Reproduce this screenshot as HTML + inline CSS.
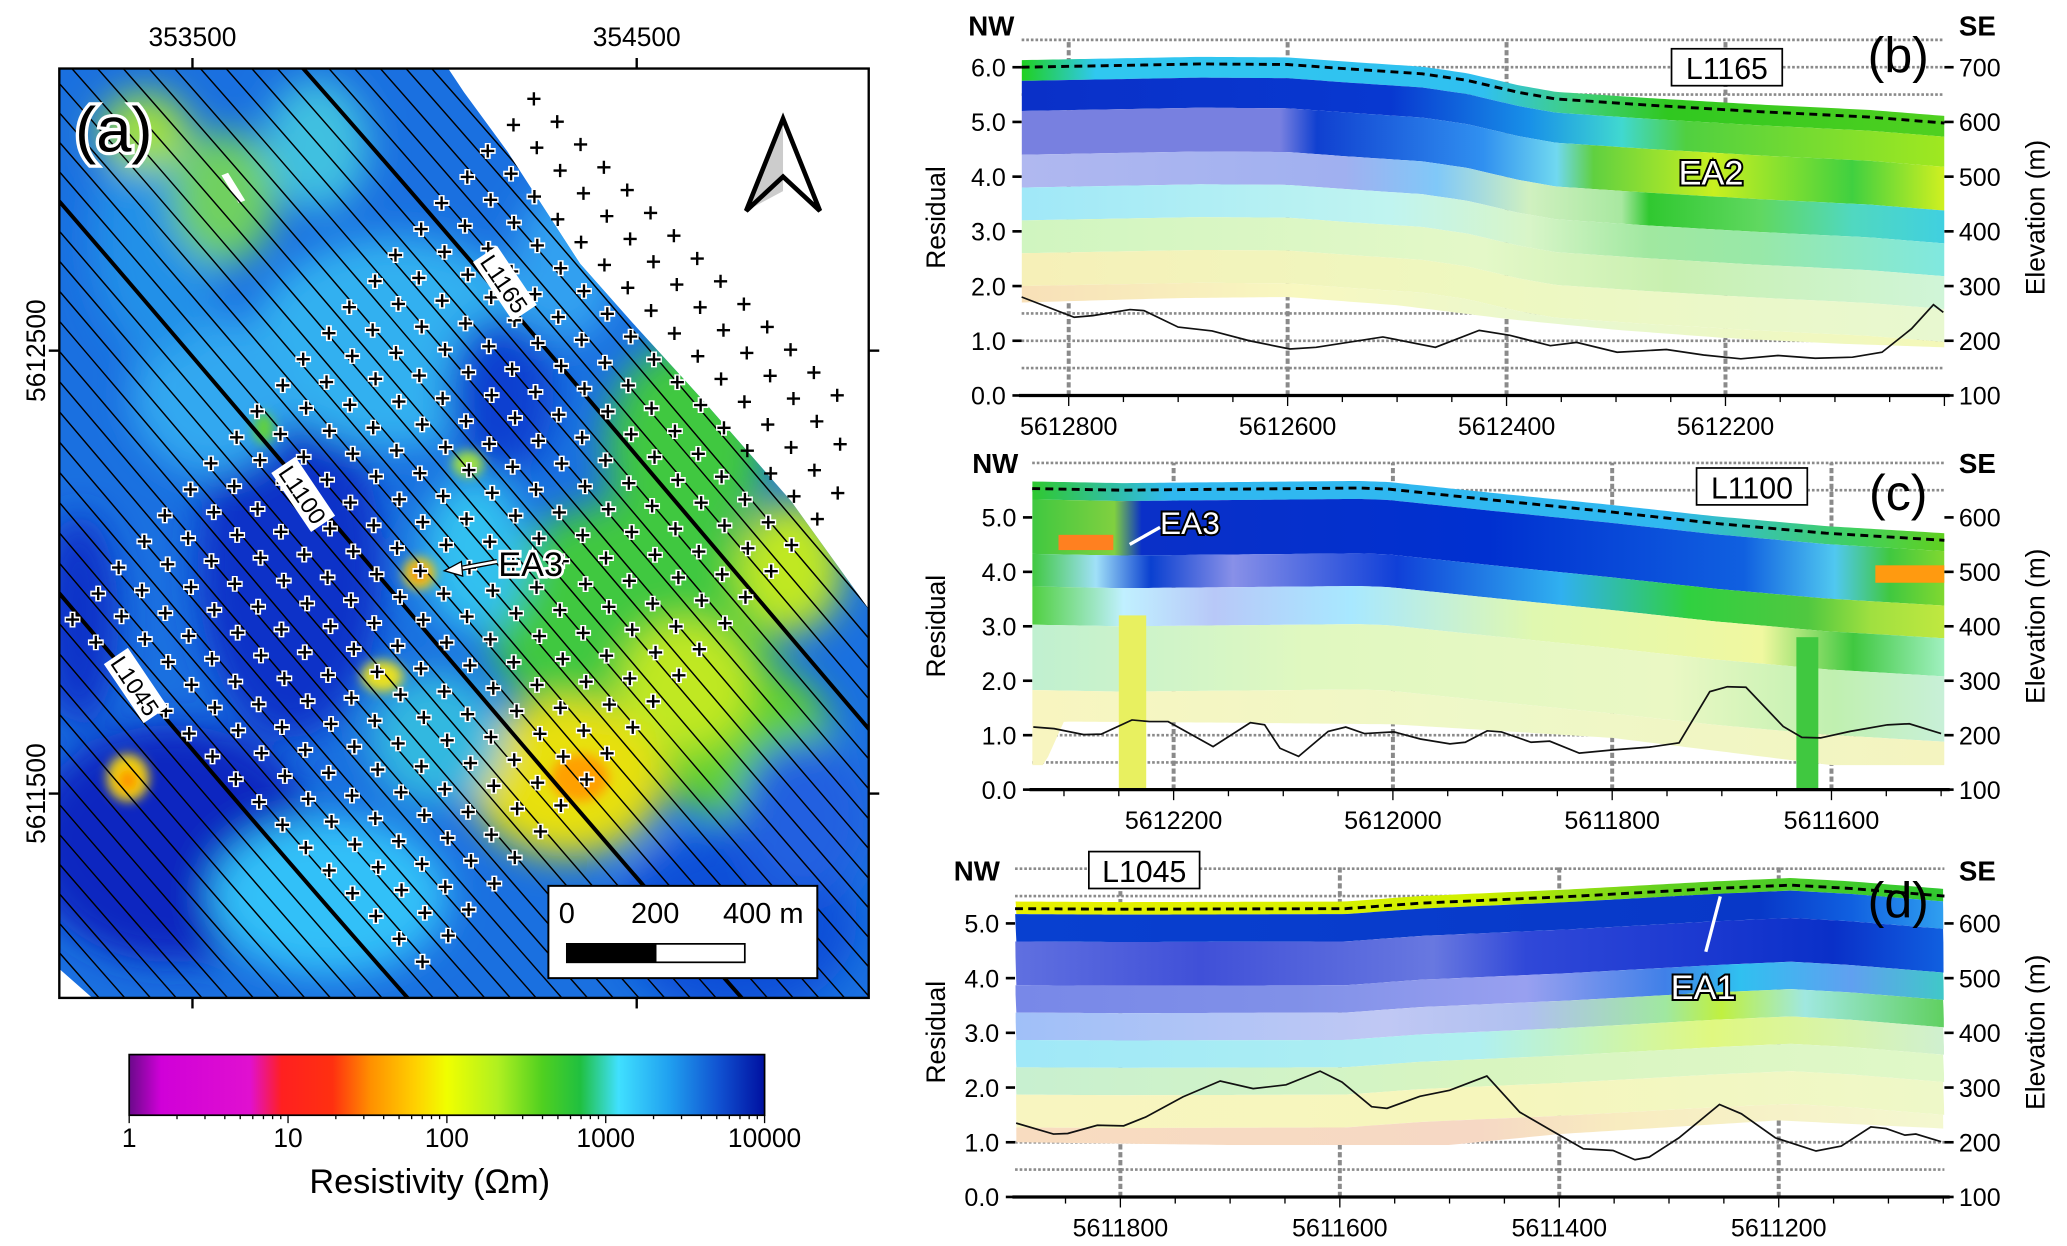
<!DOCTYPE html>
<html><head><meta charset="utf-8"><title>Resistivity map and sections</title>
<style>
html,body{margin:0;padding:0;background:#fff;}
svg{display:block;font-family:"Liberation Sans",Arial,sans-serif;}
</style></head>
<body>
<svg id="fig" xmlns="http://www.w3.org/2000/svg" width="2067" height="1246" viewBox="0 0 1568 945.2" preserveAspectRatio="none">
<defs>
<linearGradient id="cbar" x1="0" x2="1" y1="0" y2="0">
<stop offset="0" stop-color="#6a0a8a"/><stop offset="0.05" stop-color="#d000d8"/><stop offset="0.19" stop-color="#e010d0"/>
<stop offset="0.24" stop-color="#ff2020"/><stop offset="0.32" stop-color="#ff3010"/><stop offset="0.38" stop-color="#ff9000"/>
<stop offset="0.45" stop-color="#ffd000"/><stop offset="0.5" stop-color="#f0ff00"/><stop offset="0.58" stop-color="#b0f020"/>
<stop offset="0.65" stop-color="#50d020"/><stop offset="0.71" stop-color="#20c040"/><stop offset="0.77" stop-color="#40e0ff"/>
<stop offset="0.85" stop-color="#20a0f0"/><stop offset="0.93" stop-color="#1050d0"/><stop offset="1" stop-color="#0010a0"/>
</linearGradient>
<filter id="blur" x="-20%" y="-20%" width="140%" height="140%"><feGaussianBlur stdDeviation="14"/></filter>
<filter id="blur2"><feGaussianBlur stdDeviation="4"/></filter>
<clipPath id="mapclip"><polygon points="45,52 340,52 352,70 385,115 440,200 480,245 530,300 600,380 659,462 659,757 70,757 45,735"/></clipPath>
</defs>
<g id="gradients"></g>
<g id="mapg"></g>
<g id="secb"></g>
<g id="secc"></g>
<g id="secd"></g>
</svg>
<script>
// ---------- DATA ----------
// Panel (b) L1165
const bTicks=[5612800,5612600,5612400,5612200];
const bResN=[5612843,5612795,5612778,5612744,5612731,5612700,5612669,5612635,5612598,5612574,5612513,5612465,5612425,5612397,5612360,5612336,5612299,5612254,5612220,5612186,5612152,5612118,5612084,5612057,5612030,5612010,5612001];
const bResV=[1.80,1.43,1.46,1.57,1.55,1.25,1.18,1.00,0.85,0.88,1.07,0.88,1.19,1.10,0.91,0.97,0.79,0.84,0.74,0.67,0.73,0.68,0.70,0.79,1.22,1.66,1.52];
const bTopN=[5612843,5612680,5612600,5612545,5612477,5612436,5612389,5612355,5612273,5612171,5612069,5612000];
const bTopV=[6.00,6.06,6.05,5.97,5.88,5.76,5.54,5.42,5.31,5.19,5.09,4.98];
const bBotN=[5612843,5612700,5612600,5612500,5612400,5612300,5612200,5612100,5612000];
const bBotV=[1.70,1.78,1.80,1.65,1.40,1.20,1.05,0.95,0.88];
// Panel (c) L1100
const cTicks=[5612200,5612000,5611800,5611600];
const cResN=[5612328,5612309,5612282,5612266,5612238,5612222,5612205,5612164,5612130,5612117,5612103,5612086,5612059,5612043,5612026,5611999,5611975,5611948,5611934,5611914,5611901,5611874,5611857,5611830,5611799,5611766,5611739,5611711,5611695,5611678,5611644,5611627,5611610,5611583,5611549,5611529,5611500];
const cResV=[1.15,1.12,1.01,1.02,1.28,1.25,1.25,0.79,1.23,1.19,0.76,0.61,1.07,1.15,1.03,1.06,0.93,0.84,0.87,1.08,1.06,0.87,0.89,0.67,0.73,0.78,0.86,1.80,1.89,1.88,1.16,0.96,0.95,1.07,1.19,1.21,1.03];
const cTopN=[5612329,5612247,5612031,5612004,5611909,5611801,5611706,5611605,5611497];
const cTopV=[5.53,5.50,5.54,5.52,5.32,5.10,4.89,4.71,4.58];
const cBotN=[5612329,5612318,5612300,5612150,5612000,5611800,5611640,5611600,5611497];
const cBotV=[0.45,0.45,1.25,1.23,1.20,0.95,0.55,0.45,0.45];
// Panel (d) L1045
const dTicks=[5611800,5611600,5611400,5611200];
const dResN=[5611895,5611861,5611848,5611821,5611797,5611777,5611743,5611709,5611679,5611649,5611618,5611598,5611571,5611557,5611527,5611500,5611466,5611436,5611405,5611378,5611351,5611331,5611318,5611291,5611254,5611234,5611203,5611166,5611143,5611116,5611102,5611085,5611075,5611052];
const dResV=[1.35,1.15,1.16,1.31,1.30,1.46,1.83,2.12,1.98,2.05,2.30,2.10,1.65,1.62,1.84,1.95,2.21,1.55,1.19,0.88,0.85,0.68,0.73,1.08,1.69,1.52,1.08,0.84,0.93,1.28,1.25,1.13,1.15,1.01];
const dTopN=[5611896,5611797,5611595,5611527,5611392,5611257,5611189,5611135,5611049];
const dTopV=[5.27,5.26,5.27,5.37,5.49,5.64,5.70,5.64,5.50];
const dBotN=[5611896,5611700,5611500,5611400,5611200,5611049];
const dBotV=[1.00,0.95,0.95,1.15,1.40,1.25];
// shared tick labels
const resTicks=[0,1,2,3,4,5,6];
const elevTicks=[100,200,300,400,500,600,700];
const cbarTicks=[1,10,100,1000,10000];

// ---------- HELPERS ----------
const NS='http://www.w3.org/2000/svg';
function mk(tag,attrs,parent){const e=document.createElementNS(NS,tag);for(const k in attrs)e.setAttribute(k,attrs[k]);if(parent)parent.appendChild(e);return e;}
function txt(parent,x,y,s,size,opts){opts=opts||{};const t=mk('text',{x:x,y:y,'font-size':size,fill:opts.fill||'#000','text-anchor':opts.anchor||'start'},parent);if(opts.weight)t.setAttribute('font-weight',opts.weight);if(opts.rot)t.setAttribute('transform','rotate('+opts.rot+' '+x+' '+y+')');if(opts.stroke){t.setAttribute('stroke',opts.stroke);t.setAttribute('stroke-width',opts.sw||3);t.setAttribute('paint-order','stroke');}t.textContent=s;return t;}
function interp(N,V,n){if(n>=N[0])return V[0];for(let i=1;i<N.length;i++){if(n>=N[i]){const f=(N[i-1]-n)/(N[i-1]-N[i]);return V[i-1]+f*(V[i]-V[i-1]);}}return V[V.length-1];}
const grads=document.getElementById('gradients');
let gid=0;
function hgrad(x0,x1,stops){const id='g'+(gid++);const g=mk('linearGradient',{id:id,gradientUnits:'userSpaceOnUse',x1:x0,x2:x1,y1:0,y2:0},grads);stops.forEach(s=>mk('stop',{offset:s[0],'stop-color':s[1]},g));return 'url(#'+id+')';}

// ---------- SECTIONS ----------
function section(gId,P,ticks,resN,resV,topN,topV,botN,botV,bands,extras,lab){
  const g=document.getElementById(gId);
  const X=n=>P.x0+(P.nL-n)*(P.x1-P.x0)/(P.nL-P.nR);
  const Y=r=>P.y0-r*P.ppu;
  const N=x=>P.nL-(x-P.x0)*(P.nL-P.nR)/(P.x1-P.x0);
  P.grid.forEach(r=>{const l=mk('line',{x1:P.x0,x2:P.x1,y1:Y(r),y2:Y(r),stroke:'#8a8a8a','stroke-width':2,'stroke-dasharray':'2 1.5'},g);});
  ticks.forEach(n=>{const l=mk('line',{x1:X(n),x2:X(n),y1:Y(0),y2:P.top,stroke:'#8a8a8a','stroke-width':3,'stroke-dasharray':'4 2'},g);});
  const cid=gId+'clip';const cp=mk('clipPath',{id:cid},grads);
  let pts=[];for(let x=P.x0;x<=P.x1+0.1;x+=4){pts.push(x+','+Y(interp(topN,topV,N(x))+0.13));}
  for(let x=P.x1;x>=P.x0-0.1;x-=4){pts.push(x+','+Y(interp(botN,botV,N(x))));}
  mk('polygon',{points:pts.join(' ')},cp);
  const sg=mk('g',{'clip-path':'url(#'+cid+')'},g);
  
  
  bands.forEach(b=>{const fill=hgrad(P.x0,P.x1,b.stops);let bp=[];
    for(let x=P.x0;x<=P.x1+0.1;x+=4)bp.push(x+','+Y(interp(topN,topV,N(x))-b.d0));
    for(let x=P.x1;x>=P.x0-0.1;x-=4)bp.push(x+','+Y(interp(topN,topV,N(x))-b.d1));
    const p=mk('polygon',{points:bp.join(' '),fill:fill},sg);});
  extras(sg,X,Y,g);
  const rp=mk('polyline',{points:resN.map((n,i)=>X(n)+','+Y(resV[i])).join(' '),fill:'none',stroke:'#111','stroke-width':1.3},g);
  
  const tp=mk('polyline',{points:topN.map((n,i)=>X(n)+','+Y(topV[i])).join(' '),fill:'none',stroke:'#000','stroke-width':2.2,'stroke-dasharray':'6 4'},g);
  
  const ax=mk('line',{x1:P.x0-2,x2:P.x1+4,y1:Y(0),y2:Y(0),stroke:'#000','stroke-width':2.5},g);
  
  for(let n=Math.ceil(P.nR/50)*50;n<=P.nL;n+=50){const t=mk('line',{x1:X(n),x2:X(n),y1:Y(0),y2:Y(0)+(n%200===0?8:5),stroke:'#000','stroke-width':1},g);}
  ticks.forEach(n=>{const t=txt(g,X(n),Y(0)+30,String(n),19,{anchor:'middle'});});
  resTicks.forEach(r=>{if(Y(r)<P.top+8)return;const t=mk('line',{x1:P.x0-7,x2:P.x0,y1:Y(r),y2:Y(r),stroke:'#000','stroke-width':2},g);
    const l=txt(g,P.x0-12,Y(r)+7,r.toFixed(1),19,{anchor:'end'});});
  elevTicks.forEach(e=>{const r=(e-100)/100;if(Y(r)<P.top+8)return;const t=mk('line',{x1:P.x1,x2:P.x1+7,y1:Y(r),y2:Y(r),stroke:'#000','stroke-width':2},g);
    const l=txt(g,P.x1+11,Y(r)+7,String(e),19);});
  const yc=(Y(0)+P.top)/2;
  const rl=txt(g,717,yc,'Residual',20,{anchor:'middle',rot:-90});
  const el=txt(g,1551,yc,'Elevation (m)',20,{anchor:'middle',rot:-90});
  const nw=txt(g,P.nwX,P.hy,'NW',21,{weight:'bold',anchor:'middle'});
  const se=txt(g,1500,P.hy,'SE',21,{weight:'bold',anchor:'middle'});
  const pl=txt(g,1440,P.hy+28,lab.panel,38,{anchor:'middle'});
  const bx=mk('rect',{x:lab.bx,y:lab.by,width:84,height:28,fill:'#fff',stroke:'#000','stroke-width':1.3},g);
  const bt=txt(g,lab.bx+42,lab.by+23,lab.line,23,{anchor:'middle'});
}

section('secb',{x0:775,x1:1475,nL:5612843,nR:5612000,y0:300,ppu:41.5,top:30,grid:[0.5,1.0,1.5,5.5,6.0,6.5],nwX:752,hy:27},
 bTicks,bResN,bResV,bTopN,bTopV,bBotN,bBotV,[
 {d0:-0.3,d1:0.25,stops:[[0,'#20d020'],[0.08,'#30c8f0'],[0.5,'#30c0f0'],[0.6,'#40d080'],[0.7,'#30c820'],[1,'#50d020']]},
 {d0:0.25,d1:0.8,stops:[[0,'#0a30c8'],[0.4,'#0838d0'],[0.55,'#1890e8'],[0.65,'#40d8d0'],[0.72,'#50d040'],[1,'#a0e820']]},
 {d0:0.8,d1:1.6,stops:[[0,'#7880e0'],[0.28,'#7880e0'],[0.32,'#1040d0'],[0.5,'#3090f0'],[0.58,'#70d8f0'],[0.62,'#60d040'],[0.75,'#c8f020'],[0.9,'#40d040'],[1,'#d0f020']]},
 {d0:1.6,d1:2.2,stops:[[0,'#b0b8f0'],[0.35,'#a0b0f0'],[0.45,'#80c8f8'],[0.55,'#d0f0c0'],[0.65,'#a8e8a0'],[0.68,'#30c830'],[0.8,'#60d860'],[0.9,'#50d8c0'],[1,'#40d0e0']]},
 {d0:2.2,d1:2.8,stops:[[0,'#a0e8f8'],[0.4,'#c0f4f0'],[0.55,'#d8f5c8'],[0.68,'#a0e8a0'],[0.8,'#98e8a8'],[1,'#80e8e0']]},
 {d0:2.8,d1:3.4,stops:[[0,'#d0f5c0'],[0.5,'#e4f8c8'],[0.7,'#c8f0b0'],[1,'#d0f5d8']]},
 {d0:3.4,d1:4.0,stops:[[0,'#f6f0b8'],[0.5,'#eef8c0'],[1,'#e8f8d0']]},
 {d0:4.0,d1:6,stops:[[0,'#f8e0b8'],[0.3,'#f8f8c0'],[0.6,'#e8f8d0'],[1,'#f4f8b8']]}],
 (sg,X,Y)=>{},{panel:'(b)',line:'L1165',bx:1268,by:37});

section('secc',{x0:783,x1:1475,nL:5612329,nR:5611497,y0:599,ppu:41.3,top:351,grid:[0.5,1.0,5.5,6.0],nwX:755,hy:359},
 cTicks,cResN,cResV,cTopN,cTopV,cBotN,cBotV,[
 {d0:-0.3,d1:0.2,stops:[[0,'#30c830'],[0.15,'#30b8f0'],[0.7,'#30b8f0'],[0.9,'#40d060'],[1,'#60d020']]},
 {d0:0.2,d1:1.2,stops:[[0,'#40c840'],[0.09,'#80d040'],[0.12,'#0a30c8'],[0.5,'#0030d0'],[0.78,'#1060e0'],[0.88,'#50c8f0'],[0.94,'#40c840'],[1,'#80d830']]},
 {d0:1.2,d1:1.8,stops:[[0,'#40c840'],[0.07,'#a0e0f8'],[0.13,'#0a40d0'],[0.22,'#8890e8'],[0.4,'#1040d8'],[0.58,'#30b0f0'],[0.72,'#30d040'],[0.85,'#50c840'],[0.92,'#a0e040'],[1,'#c0e840']]},
 {d0:1.8,d1:2.5,stops:[[0,'#50d040'],[0.1,'#c0f0ff'],[0.2,'#b8c8f8'],[0.35,'#a8e8ff'],[0.55,'#e0f8b0'],[0.8,'#f0f8a0'],[0.9,'#40c840'],[1,'#a0f0c0']]},
 {d0:2.5,d1:3.7,stops:[[0,'#c0f0d0'],[0.3,'#e0f8c0'],[0.7,'#eaf8c4'],[0.88,'#c0f0b0'],[1,'#c8f0d8']]},
 {d0:3.7,d1:6,stops:[[0,'#f8f5c0'],[0.5,'#eef8c8'],[1,'#f4f4c0']]}],
 (sg,X,Y,g)=>{
   const a=mk('rect',{x:X(5612305),y:Y(4.68),width:X(5612255)-X(5612305),height:Y(4.4)-Y(4.68),fill:'#ff8020'},sg);
   const o=mk('rect',{x:X(5611560),y:Y(4.12),width:X(5611497)-X(5611560),height:Y(3.8)-Y(4.12),fill:'#ff9a10'},sg);
   const s1=mk('rect',{x:X(5612250),y:Y(3.2),width:X(5612225)-X(5612250),height:Y(0)-Y(3.2),fill:'#e8f060'},g);
   const s2=mk('rect',{x:X(5611632),y:Y(2.8),width:X(5611612)-X(5611632),height:Y(0)-Y(2.8),fill:'#40c840'},g);
   const ear=mk('line',{x1:880,y1:400,x2:857,y2:413,stroke:'#fff','stroke-width':2.5},g);
   const t=txt(g,880,405,'EA3',24,{fill:'#fff',stroke:'#000',sw:3});
 },{panel:'(c)',line:'L1100',bx:1287,by:355});

section('secd',{x0:770,x1:1475,nL:5611896,nR:5611049,y0:908,ppu:41.5,top:658,grid:[0.5,1.0,5.5,6.0],nwX:741,hy:668},
 dTicks,dResN,dResV,dTopN,dTopV,dBotN,dBotV,[
 {d0:-0.3,d1:0.1,stops:[[0,'#e8f000'],[0.5,'#d0f000'],[0.7,'#60d020'],[1,'#30c830']]},
 {d0:0.1,d1:0.6,stops:[[0,'#0840d0'],[0.8,'#0838c8'],[0.9,'#1060e0'],[1,'#30a0f0']]},
 {d0:0.6,d1:1.4,stops:[[0,'#6070e0'],[0.2,'#4050d8'],[0.45,'#6878e0'],[0.55,'#3048d8'],[0.75,'#1a38d0'],[0.88,'#0a30c8'],[1,'#1060e0']]},
 {d0:1.4,d1:1.9,stops:[[0,'#7888e8'],[0.3,'#8090e8'],[0.55,'#98a0f0'],[0.7,'#4080e8'],[0.78,'#30c0f0'],[0.9,'#60a0f0'],[1,'#40c8c8']]},
 {d0:1.9,d1:2.4,stops:[[0,'#a0c0f8'],[0.4,'#c0c8f4'],[0.55,'#b0c0f0'],[0.7,'#a0e8a0'],[0.76,'#c0f040'],[0.85,'#a0e8e0'],[1,'#60d060']]},
 {d0:2.4,d1:2.9,stops:[[0,'#a0e8f8'],[0.5,'#b0f0f0'],[0.75,'#e0f880'],[1,'#d0f0d0']]},
 {d0:2.9,d1:3.4,stops:[[0,'#c8f0d0'],[0.5,'#d8f5c0'],[1,'#e0f8c8']]},
 {d0:3.4,d1:4.0,stops:[[0,'#f8f5c0'],[0.5,'#f6f6bc'],[1,'#eef8c8']]},
 {d0:4.0,d1:6,stops:[[0,'#f8dcc0'],[0.5,'#f6d8c4'],[0.65,'#f8ecc0'],[1,'#f4f8d0']]}],
 (sg,X,Y,g)=>{
   const ea=mk('line',{x1:1294,y1:722,x2:1305,y2:680,stroke:'#fff','stroke-width':2.5},g);
   const t=txt(g,1292,758,'EA1',26,{fill:'#fff',stroke:'#000',sw:3,anchor:'middle'});
 },{panel:'(d)',line:'L1045',bx:826,by:646});
{const g=document.getElementById('secb');const t=txt(g,1298,140,'EA2',26,{fill:'#fff',stroke:'#000',sw:3,anchor:'middle'});}

// ---------- MAP ----------
(function(){
 const g=document.getElementById('mapg');
 const cg=mk('g',{'clip-path':'url(#mapclip)'},g);
 const bg=mk('rect',{x:45,y:52,width:614,height:705,fill:'#1a70e0'},cg);
 
 const bl=mk('g',{filter:'url(#blur)'},cg);
 const blobs=[[130,640,110,90,'#0a28c0'],[220,430,70,130,'#0a30c8'],[300,260,110,80,'#30b0f0'],[380,300,40,60,'#0a40d0'],[160,300,60,60,'#30a8f0'],
  [560,700,90,70,'#1050d8'],[250,680,90,60,'#30c0f8'],[120,180,50,90,'#2090e8'],[480,470,110,90,'#40c840'],[520,340,60,80,'#40c840'],
  [430,200,40,60,'#30a0f0'],[170,150,40,50,'#70d060'],[110,100,35,30,'#a0e040'],[240,110,40,50,'#40c0e0'],[560,560,70,60,'#60d030'],[600,430,40,50,'#c0e820'],
  [430,590,75,60,'#e8e010'],[520,520,50,50,'#c0e820'],[610,620,50,60,'#2060e0'],[360,420,40,60,'#30c0f0'],[330,560,50,50,'#30b8e0'],[60,470,30,80,'#0a30c8']];
 blobs.forEach(b=>{const e=mk('ellipse',{cx:b[0],cy:b[1],rx:b[2],ry:b[3],fill:b[4]},bl);});
 const sm=mk('g',{filter:'url(#blur2)'},cg);
 [[440,590,22,18,'#ffa000'],[97,590,16,18,'#f0d010'],[97,592,7,8,'#ff9000'],[318,435,12,12,'#ffd000'],[318,435,5,5,'#e01020'],[290,513,16,12,'#e8e020'],[200,325,8,12,'#60d040'],[355,352,12,10,'#a0e040']].forEach(b=>{const e=mk('ellipse',{cx:b[0],cy:b[1],rx:b[2],ry:b[3],fill:b[4]},sm);});
 const wn=mk('polygon',{points:'168,133 173,131 186,152 181,154',fill:'#fff'},cg);
 
 const lg=mk('g',{},cg);
 for(let k=-34;k<=30;k++){const c=-88+k*19.5;const thick=(k===0||k===14||k===-13);
   const d='M'+(c+0.86*40)+',40 C'+(c+0.86*260+6)+',260 '+(c+0.86*540-6)+',540 '+(c+0.86*770)+',770';
   const p=mk('path',{d:d,fill:'none',stroke:'#000','stroke-width':thick?3:1.1},lg);
   }
 const inside=(x,y)=>{const pts=[[45,52],[340,52],[352,70],[385,115],[440,200],[480,245],[530,300],[600,380],[659,462],[659,757],[45,757]];let c=false;for(let i=0,j=pts.length-1;i<pts.length;j=i++){const[xi,yi]=pts[i],[xj,yj]=pts[j];if((yi>y)!==(yj>y)&&x<(xj-xi)*(y-yi)/(yj-yi)+xi)c=!c;}return c;};
 const xg=mk('g',{},g);
 for(let i=0;i<=20;i++)for(let j=0;j<=15;j++){
   const x=55+i*17.5+j*17.7+(i%2)*2, y=470-i*19.75+j*17.3;
   if(x<50||x>652||y<60||y>750)continue;
   const ins=inside(x,y);
   const gp=mk('g',{},xg);
   
   
   if(ins){mk('path',{d:'M'+(x-6)+','+y+'h12M'+x+','+(y-6)+'v12',stroke:'#fff','stroke-width':4.5},gp);}
   mk('path',{d:'M'+(x-5)+','+y+'h10M'+x+','+(y-5)+'v10',stroke:'#000','stroke-width':1.8},gp);
 }
 const fr=mk('rect',{x:45,y:52,width:614,height:705,fill:'none',stroke:'#000','stroke-width':1.8},g);
 
 [[146,'353500'],[483,'354500']].forEach(t=>{mk('line',{x1:t[0],x2:t[0],y1:44,y2:52,stroke:'#000','stroke-width':1.8},g);mk('line',{x1:t[0],x2:t[0],y1:757,y2:765,stroke:'#000','stroke-width':1.8},g);
   const l=txt(g,t[0],35,t[1],20,{anchor:'middle'});});
 [[266,'5612500'],[602,'5611500']].forEach(t=>{mk('line',{x1:37,x2:45,y1:t[0],y2:t[0],stroke:'#000','stroke-width':1.8},g);mk('line',{x1:659,x2:667,y1:t[0],y2:t[0],stroke:'#000','stroke-width':1.8},g);
   const l=txt(g,34,t[0],t[1],20,{anchor:'middle',rot:-90});});
 const pa=txt(g,57,115,'(a)',48,{stroke:'#fff',sw:5});
 const na=mk('g',{},g);
 mk('polygon',{points:'594,90 594,145 566,160',fill:'#ccc',stroke:'none'},na);
 mk('polygon',{points:'594,90 622,160 594,134 566,160',fill:'none',stroke:'#000','stroke-width':3.5,'stroke-linejoin':'miter'},na);
 [[383,215,'L1165'],[230,375,'L1100'],[103,520,'L1045']].forEach(t=>{const lg2=mk('g',{transform:'translate('+t[0]+','+t[1]+') rotate(56)'},g);
   
   mk('rect',{x:-27,y:-11,width:54,height:22,fill:'#fff'},lg2);txt(lg2,0,7,t[2],18,{anchor:'middle'});});
 const ar=mk('g',{},g);
 mk('path',{d:'M377,426 L345,432',stroke:'#000','stroke-width':4},ar);mk('path',{d:'M377,426 L345,432',stroke:'#fff','stroke-width':2},ar);
 mk('polygon',{points:'337,433 350,426 351,437',fill:'#fff',stroke:'#000','stroke-width':1},ar);
 const ea3=txt(g,378,437,'EA3',26,{stroke:'#fff',sw:4});
 const sb=mk('g',{},g);
 mk('rect',{x:416,y:672,width:204,height:70,fill:'#fff',stroke:'#000','stroke-width':1.5},sb);
 txt(sb,430,700,'0',22,{anchor:'middle'});txt(sb,497,700,'200',22,{anchor:'middle'});txt(sb,579,700,'400 m',22,{anchor:'middle'});
 mk('rect',{x:430,y:716,width:135,height:14,fill:'#fff',stroke:'#000','stroke-width':1.3},sb);
 mk('rect',{x:430,y:716,width:68,height:14,fill:'#000'},sb);
 const cb=mk('g',{},g);
 mk('rect',{x:98,y:800,width:482,height:46,fill:'url(#cbar)',stroke:'#000','stroke-width':1.3},cb);
 for(let d=0;d<4;d++)for(let m=1;m<10;m++){const x=98+(d+Math.log10(m))*120.5;mk('line',{x1:x,x2:x,y1:846,y2:m===1?852:849,stroke:'#000','stroke-width':1},cb);}
 mk('line',{x1:580,x2:580,y1:846,y2:852,stroke:'#000','stroke-width':1},cb);
 cbarTicks.forEach(v=>{const l=txt(cb,98+Math.log10(v)*120.5,870,String(v),20,{anchor:'middle'});});
 const ct=txt(g,326,905,'Resistivity (Ωm)',26,{anchor:'middle'});
})();
</script>
</body></html>
